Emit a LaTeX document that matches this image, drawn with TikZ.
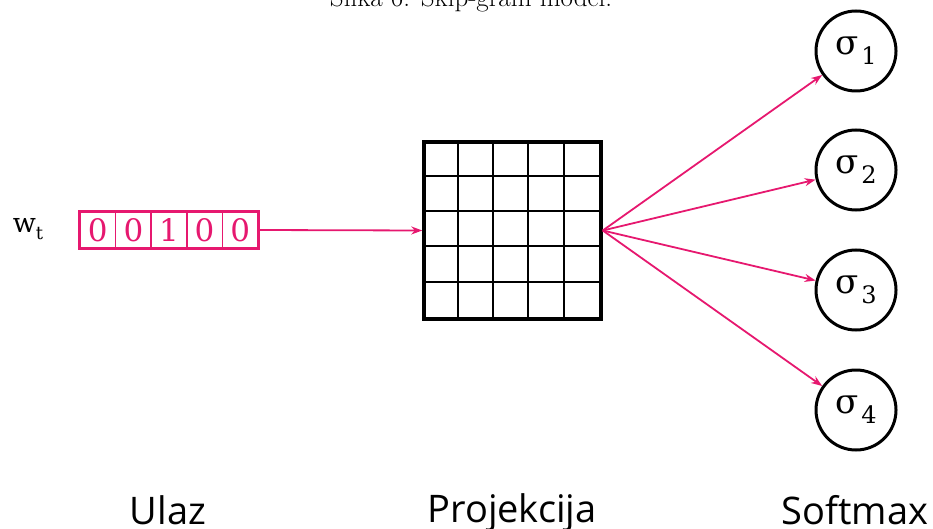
\documentclass[tikz,border=0pt]{standalone}
\usepackage{fontspec}
\newfontfamily\serifdv{DejaVu Serif}
\newfontfamily\sanslbl{Open Sans}
\usetikzlibrary{arrows.meta,positioning,calc}
\definecolor{vecpink}{HTML}{E6186F}
\newcommand{\sig}[1]{\serifdv\fontsize{34}{34}\selectfont σ\kern3pt\raisebox{-10pt}{\fontsize{24}{24}\selectfont #1}}
\tikzset{
  cell/.style={draw=vecpink,line width=1.5pt,minimum width=35.6pt,minimum height=36pt,inner sep=0pt,
    text=vecpink,font=\serifdv\fontsize{31}{31}\selectfont},
  outbox/.style={circle,draw,line width=3pt,minimum size=80pt,inner sep=0pt},
  arr/.style={vecpink,line width=1.8pt,-{Stealth[length=11pt,width=8pt]}},
  lbl/.style={font=\sanslbl\fontsize{38}{38}\selectfont,anchor=base,inner sep=0pt}
}
\begin{document}
\begin{tikzpicture}[x=1pt,y=-1pt]
\useasboundingbox (0,0) rectangle (933,529);
% caption, cut by the page edge
\node[anchor=base,inner sep=0pt,font=\fontsize{27}{27}\selectfont] (cap) at (471,6.5) {Slika 6: Skip-gram model.};
% input vector
\node[font=\serifdv\fontsize{27}{27}\selectfont,anchor=base,inner sep=0pt] (wt) at (28,233) {w\raisebox{-7pt}{\fontsize{18}{18}\selectfont t}};
\foreach \i/\b in {1/0,2/0,3/1,4/0,5/0}
  \node[cell] (c\i) at ({80+35.6*(\i-0.5)},230) {\b};
\draw[vecpink,line width=3pt] (c1.north west) rectangle (c5.south east);
% projection matrix
\node[draw,line width=3.5pt,minimum size=177pt,inner sep=0pt] (proj) at (512.5,230.5) {};
\foreach \k in {1,...,4} {
  \draw[line width=2pt] ($(proj.north west)+(35.4*\k,0)$) -- ($(proj.south west)+(35.4*\k,0)$);
  \draw[line width=2pt] ($(proj.north west)+(0,35.4*\k)$) -- ($(proj.north east)+(0,35.4*\k)$);
}
% softmax outputs
\foreach \i/\yy in {1/51,2/170,3/290,4/410}
  \node[outbox] (s\i) at (856,\yy) {\sig{\i}};
\draw[arr] (c5.east) -- (proj.west);
\foreach \i in {1,...,4}
  \draw[arr] (proj.east) -- (s\i);
% layer labels
\node[lbl] (ulaz) at (168,524) {Ulaz};
\node[lbl] (projl) at (512,522) {Projekcija};
\node[lbl] (soft) at (855,524) {Softmax};
\end{tikzpicture}
\end{document}
